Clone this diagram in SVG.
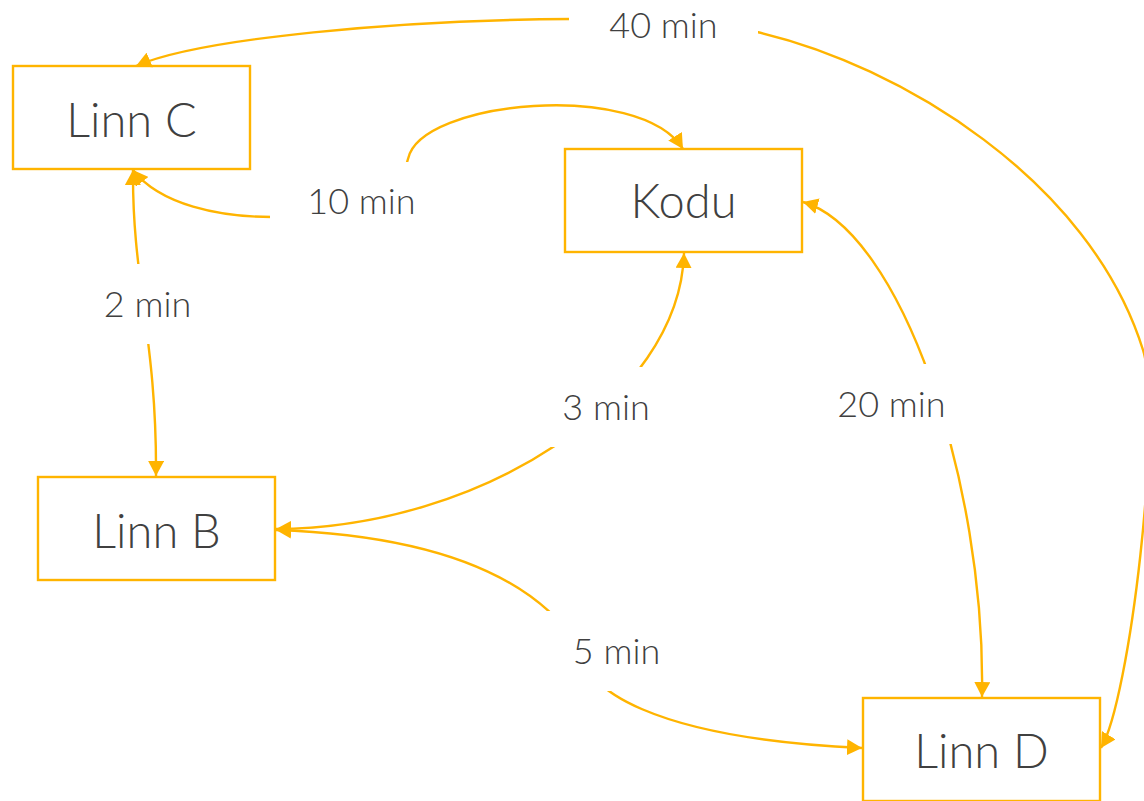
<svg xmlns="http://www.w3.org/2000/svg" width="1144" height="801" viewBox="0 0 1144 801">
  <style>
    .node rect { fill: #ffffff; stroke: #FFB400; stroke-width: 2.4; }
    .node text { font-family: Lato, "Open Sans", "Liberation Sans", sans-serif; font-weight: 300; font-size: 47px; fill: #404040; text-anchor: middle; }
    .edge { fill: none; stroke: #FFB400; stroke-width: 2.4; marker-start: url(#arrow); marker-end: url(#arrow); }
    .lbl-bg { fill: #ffffff; stroke: none; }
    .lbl { font-family: Lato, "Open Sans", "Liberation Sans", sans-serif; font-weight: 300; font-size: 36px; fill: #404040; text-anchor: middle; }
  </style>
  <defs>
    <marker id="arrow" viewBox="0 0 15 16" refX="15" refY="8" markerWidth="15" markerHeight="16" markerUnits="userSpaceOnUse" orient="auto-start-reverse">
      <path d="M0,0 L15,8 L0,16 Z" fill="#FFB400"/>
    </marker>
  </defs>
  <rect width="1144" height="801" fill="#ffffff"/>

  <!-- places -->
  <g id="node-linn-c" class="node">
    <rect x="13" y="66" width="237" height="103"/>
    <text x="131.5" y="137">Linn C</text>
  </g>
  <g id="node-kodu" class="node">
    <rect x="565" y="149" width="237" height="103"/>
    <text x="683.5" y="218">Kodu</text>
  </g>
  <g id="node-linn-b" class="node">
    <rect x="38" y="477" width="237" height="103"/>
    <text x="156.5" y="548">Linn B</text>
  </g>
  <g id="node-linn-d" class="node">
    <rect x="863" y="698" width="237" height="103"/>
    <text x="981.5" y="768">Linn D</text>
  </g>

  <!-- travel times between places -->
  <g id="connectors">
    <!-- Linn C <-> Linn D, 40 min -->
    <path class="edge" d="M136,66 C200,38 400,20 572,19 C640,18 700,22 757,32 C900,65 1090,180 1143,350 C1163,414 1130,700 1101,748"/>
    <!-- Linn C <-> Kodu, 10 min -->
    <path class="edge" d="M133,170 C160,205 220,217 272,217 C340,217 400,195 408,159 C420,100 640,80 683,149"/>
    <!-- Linn C <-> Linn B, 2 min -->
    <path class="edge" d="M133,170 C132,280 157,340 156,476"/>
    <!-- Linn B <-> Kodu, 3 min -->
    <path class="edge" d="M276,529 C480,528 680,400 684,253"/>
    <!-- Kodu <-> Linn D, 20 min -->
    <path class="edge" d="M803,202 C900,230 986,480 982,697"/>
    <!-- Linn B <-> Linn D, 5 min -->
    <path class="edge" d="M276,530 C420,535 530,570 580,648 C582,688 650,738 862,748"/>

    <g id="label-40">
      <rect class="lbl-bg" x="569" y="-15" width="189" height="80"/>
      <text class="lbl" x="663.5" y="38">40 min</text>
    </g>
    <g id="label-10">
      <rect class="lbl-bg" x="270" y="162" width="183" height="80"/>
      <text class="lbl" x="361.5" y="214">10 min</text>
    </g>
    <g id="label-2">
      <rect class="lbl-bg" x="63" y="264" width="169" height="80"/>
      <text class="lbl" x="147.5" y="317">2 min</text>
    </g>
    <g id="label-3">
      <rect class="lbl-bg" x="522" y="367" width="168" height="80"/>
      <text class="lbl" x="606" y="420">3 min</text>
    </g>
    <g id="label-20">
      <rect class="lbl-bg" x="798" y="364" width="187" height="80"/>
      <text class="lbl" x="891.5" y="417">20 min</text>
    </g>
    <g id="label-5">
      <rect class="lbl-bg" x="533" y="611" width="167" height="80"/>
      <text class="lbl" x="616.5" y="664">5 min</text>
    </g>
  </g>
</svg>
